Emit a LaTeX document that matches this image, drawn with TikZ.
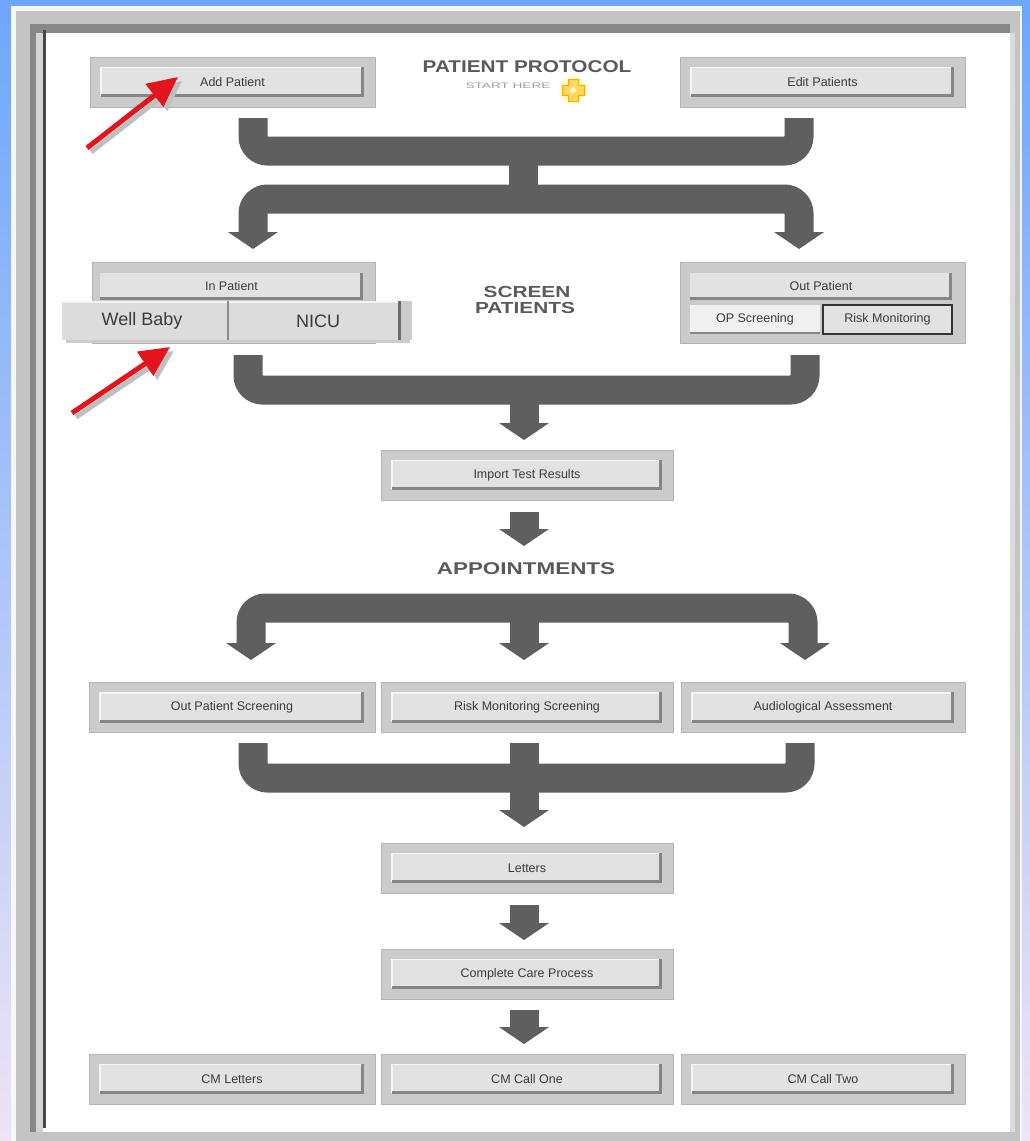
\documentclass[tikz,border=0pt]{standalone}
\usepackage{fontspec}
\setmainfont{Liberation Sans}
\usetikzlibrary{arrows.meta}
\definecolor{bgtop}{HTML}{6EA6FC}
\definecolor{bgbot}{HTML}{EEE4F4}
\definecolor{framegray}{HTML}{C4C4C4}
\definecolor{framedark}{HTML}{878787}
\definecolor{agray}{HTML}{5F5F5F}
\definecolor{boxgray}{HTML}{CBCBCB}
\definecolor{boxedge}{HTML}{B4B4B4}
\definecolor{facegray}{HTML}{E2E2E2}
\definecolor{edgegray}{HTML}{858585}
\definecolor{txt}{HTML}{3A3A3A}
\definecolor{headgray}{HTML}{5A5A5A}
\definecolor{arrred}{HTML}{E3141B}
\definecolor{tabgray}{HTML}{DCDCDC}
\newcommand\mybtn[5]{%
  \fill[boxout] ({#2-#4/2},{#3-25}) rectangle ({#2+#4/2},{#3+25});
  \node[face, minimum width={#4-22}, minimum height=30] (#1) at (#2,#3) {#5};
  \draw[hilite] ([yshift=1.5pt]#1.south west) -- ([yshift=-0.7pt]#1.north west) -- ([xshift=-1.5pt,yshift=-0.7pt]#1.north east);
  \draw[btnedge] ([yshift=1.5pt]#1.south west) -- ([xshift=-1.5pt,yshift=1.5pt]#1.south east) -- ([xshift=-1.5pt]#1.north east);
}
\newcommand\fathead[2]{\fill[agray] ({#1-25},#2) -- ({#1+25},#2) -- (#1,{#2+17}) -- cycle;}
\begin{document}
\begin{tikzpicture}[x=1pt,y=-1pt,
  fat/.style={line width=29pt, draw=agray, rounded corners=14.5pt},
  boxout/.style={fill=boxgray, draw=boxedge, line width=0.8pt},
  face/.style={fill=facegray, draw=none, inner sep=0pt, text=txt, font=\fontsize{12.5}{14}\selectfont},
  hilite/.style={draw=white!92!gray, line width=1.4pt},
  btnedge/.style={draw=edgegray, line width=3pt},
  heading/.style={text=headgray, inner sep=0pt, font=\bfseries},
  redarrow/.style={draw=arrred, line width=5pt, -{Triangle[length=30pt,width=28pt]}},
  redshadow/.style={draw=black!25, line width=5pt, -{Triangle[length=30pt,width=28pt]}}
]
\useasboundingbox (0,0) rectangle (1030,1141);
% background and window frame
\shade[top color=bgtop, bottom color=bgbot] (0,0) rectangle (1030,1141);
\fill[white!94!gray] (11,6) rectangle (1022,1141);
\fill[framegray] (16,11) rectangle (1020,1141);
\fill[framedark] (30,24) rectangle (1010,33);
\fill[framedark] (30,24) rectangle (36,1132);
\fill[white] (36,33) rectangle (1010,1132);
\fill[black!17] (36,33) rectangle (43,1132);
\fill[black!72] (43,30) rectangle (46,1128);
\fill[black!14] (1010,33) rectangle (1015,1132);

% ---------- top row
\mybtn{add}{232.5}{82}{285}{Add Patient}
\mybtn{edit}{822.5}{82}{285}{Edit Patients}
\node[heading] (title) at (527,67) {\scalebox{1.22}[1]{\fontsize{17}{17}\selectfont PATIENT PROTOCOL}};
\node[heading, text=black!38, font=\mdseries] (starthere) at (508,86) {\scalebox{1.7}[1]{\fontsize{8}{8}\selectfont START HERE}};
\fill[yellow!25, opacity=0.7] (573,90) circle (14);
\node[inner sep=0pt] (icon) at (573,90) {};
\filldraw[fill=yellow!55!orange!60, draw=orange!70!yellow, line width=0.8pt]
  (568,79) -- (578,79) -- (578,85) -- (584,85) -- (584,95) -- (578,95) -- (578,101) -- (568,101) -- (568,95) -- (562,95) -- (562,85) -- (568,85) -- cycle;
\fill[yellow!30] (573,90) circle (3);

% ---------- connector 1 (merge and split)
\coordinate (c1l) at (253,118);
\coordinate (c1r) at (799,118);
\draw[fat] (c1l) -- (253,151) -- (799,151) -- (c1r);
\draw[fat] (523,151) -- (523,199);
\draw[fat] (523,199) -- (253,199) -- (253,233);
\draw[fat] (523,199) -- (799,199) -- (799,233);
\fathead{253}{232}
\fathead{799}{232}

% ---------- screen patients
\fill[boxout] (92,262) rectangle (375,343);
\node[face, minimum width=263, minimum height=27] (inpat) at (231.5,286.5) {In Patient};
\draw[btnedge] ([yshift=1.5pt]inpat.south west) -- ([xshift=-1.5pt,yshift=1.5pt]inpat.south east) -- ([xshift=-1.5pt]inpat.north east);
\fill[black!20] (66,338) rectangle (410,343);
\fill[tabgray] (62,301) rectangle (412,340);
\fill[white!90!gray] (62,301) rectangle (412,303);
\draw[black!45, line width=2pt] (228,301) -- (228,340);
\fill[black!58] (398,301) rectangle (401,340);
\fill[black!20] (401,301) rectangle (412,340);
\node[inner sep=0pt, text=txt, font=\fontsize{18}{20}\selectfont] (wellbaby) at (142,321) {Well Baby};
\node[inner sep=0pt, text=txt, font=\fontsize{18}{20}\selectfont] (nicu) at (318,321) {NICU};

\fill[boxout] (680,262) rectangle (965,343);
\node[face, minimum width=262, minimum height=27] (outpat) at (821,286.5) {Out Patient};
\draw[btnedge] ([yshift=1.5pt]outpat.south west) -- ([xshift=-1.5pt,yshift=1.5pt]outpat.south east) -- ([xshift=-1.5pt]outpat.north east);
\node[face, fill=white!88!gray, minimum width=130, minimum height=29] (opscr) at (755,319) {OP Screening};
\draw[btnedge, line width=2pt] ([yshift=1pt]opscr.south west) -- ([yshift=1pt]opscr.south east);
\node[face, draw=black!80, line width=2pt, minimum width=129, minimum height=29] (riskmon) at (887.5,319.5) {Risk Monitoring};

\node[heading] (screen) at (527,292) {\scalebox{1.3}[1]{\fontsize{16}{16}\selectfont SCREEN}};
\node[heading] (patients) at (525,308) {\scalebox{1.3}[1]{\fontsize{16}{16}\selectfont PATIENTS}};

% ---------- connector 3 (merge)
\coordinate (c3l) at (248,355);
\coordinate (c3r) at (805,355);
\draw[fat] (c3l) -- (248,390) -- (805,390) -- (c3r);
\draw[fat] (524,390) -- (524,424);
\fathead{524}{423}

% ---------- import
\mybtn{import}{527}{475}{292}{Import Test Results}
\draw[fat] (524,512) -- (524,530);
\fathead{524}{529}

\node[heading] (appts) at (526,569) {\scalebox{1.32}[1]{\fontsize{17}{17}\selectfont APPOINTMENTS}};

% ---------- connector 4 (split in three)
\coordinate (c4l) at (251,644);
\coordinate (c4r) at (803,644);
\draw[fat] (c4l) -- (251,608) -- (803,608) -- (c4r);
\draw[fat] (524,608) -- (524,644);
\fathead{251}{643}
\fathead{524}{643}
\fathead{805}{643}

\mybtn{ops}{232}{707.5}{286}{Out Patient Screening}
\mybtn{rms}{527}{707.5}{292}{Risk Monitoring Screening}
\mybtn{aud}{823}{707.5}{284}{Audiological Assessment}

% ---------- connector 5 (merge three)
\coordinate (c5l) at (253,743);
\coordinate (c5r) at (800,743);
\draw[fat] (c5l) -- (253,778) -- (800,778) -- (c5r);
\draw[fat] (524,743) -- (524,811);
\fathead{524}{810}

\mybtn{letters}{527}{868}{292}{Letters}
\draw[fat] (524,905) -- (524,924);
\fathead{524}{923}

\mybtn{ccp}{527}{974}{292}{Complete Care Process}
\draw[fat] (524,1010) -- (524,1028);
\fathead{524}{1027}

\mybtn{cml}{232}{1079}{286}{CM Letters}
\mybtn{cm1}{527}{1079}{292}{CM Call One}
\mybtn{cm2}{823}{1079}{284}{CM Call Two}

% ---------- red pointer arrows
\coordinate (r1tail) at (87,148);
\coordinate (r1tip) at (178,77);
\coordinate (r2tail) at (72,413);
\coordinate (r2tip) at (170,347);
\draw[redshadow] ([xshift=4pt,yshift=-4pt]r1tail) -- ([xshift=4pt,yshift=-4pt]r1tip);
\draw[redarrow] (r1tail) -- (r1tip);
\draw[redshadow] ([xshift=4pt,yshift=-4pt]r2tail) -- ([xshift=4pt,yshift=-4pt]r2tip);
\draw[redarrow] (r2tail) -- (r2tip);
\end{tikzpicture}
\end{document}
